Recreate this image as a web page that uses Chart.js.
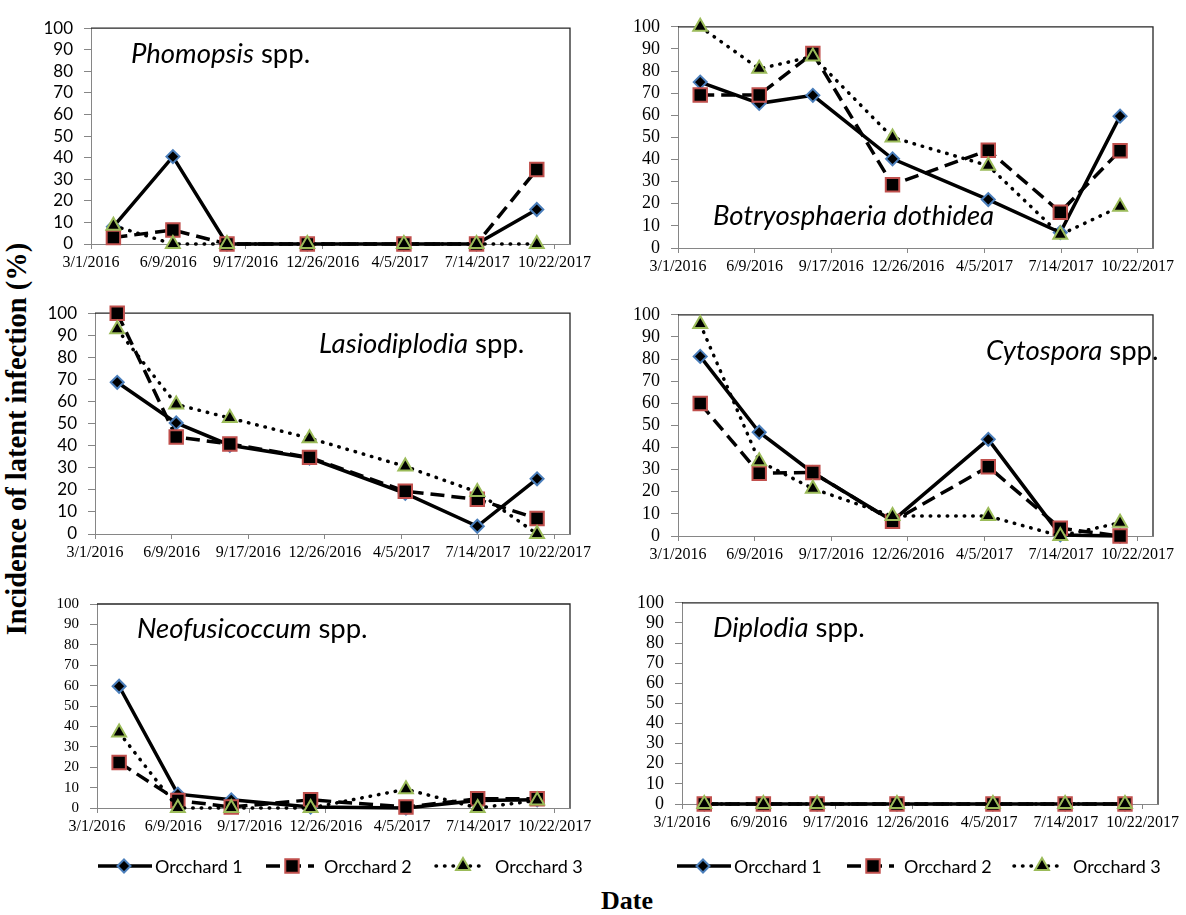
<!DOCTYPE html>
<html>
<head>
<meta charset="utf-8">
<script src="https://cdn.jsdelivr.net/npm/chart.js@4.4.1/dist/chart.umd.min.js"></script>
<style>
  body { margin: 0; background: #fff; }
  #page { position: relative; width: 1186px; height: 915px; overflow: hidden; background: #fff; }
  canvas { position: absolute; }
  #ytitle {
    position: absolute; left: 17px; top: 439px; white-space: nowrap; line-height: 1;
    font: bold 28.5px "Liberation Serif", "Times New Roman", serif;
    transform: translate(-50%, -50%) rotate(-90deg);
  }
  #xtitle {
    position: absolute; left: 627px; top: 886px; line-height: 1; white-space: nowrap;
    font: bold 26px "Liberation Serif", "Times New Roman", serif;
    transform: translateX(-50%);
  }
</style>
</head>
<body>
<div id="page">
  <div id="ytitle">Incidence of latent infection (%)</div>
  <div id="xtitle">Date</div>
</div>
<script>
const sampleDates = ["2016-03-30", "2016-06-15", "2016-08-24", "2016-12-06", "2017-04-10", "2017-07-13", "2017-09-29"];
const tickLabels = ["3/1/2016", "6/9/2016", "9/17/2016", "12/26/2016", "4/5/2017", "7/14/2017", "10/22/2017"];
const seriesNames = ["Orcchard 1", "Orcchard 2", "Orcchard 3"];

const phomopsis1 = [8, 40.5, 0, 0, 0, 0, 16];
const phomopsis2 = [3, 6.5, 0, 0, 0, 0, 34.5];
const phomopsis3 = [8.5, 0, 0, 0, 0, 0, 0];

const botryo1 = [75, 65.4, 69, 40.3, 21.9, 7, 59.6];
const botryo2 = [69.2, 69.2, 88, 28.6, 44.2, 16.2, 44];
const botryo3 = [100, 81, 86.6, 50, 37.2, 6, 18.7];

const lasio1 = [68.7, 50.3, 40.2, 34.4, 18.4, 3.5, 25];
const lasio2 = [100, 43.9, 40.8, 34.7, 19.4, 15.7, 7];
const lasio3 = [92.7, 58.7, 52.5, 43.4, 30.6, 19, 0];

const cyto1 = [81.2, 46.9, 28.6, 6.9, 43.7, 0.5, 0];
const cyto2 = [59.9, 28.4, 28.7, 6.6, 31.3, 3.5, 0];
const cyto3 = [95.8, 33.8, 21.4, 9, 9, 0, 6];

const neo1 = [59.7, 6.8, 4, 0.5, 0, 3.7, 4];
const neo2 = [22.3, 3.7, 0.5, 4, 0.5, 4.5, 4.5];
const neo3 = [37, 0, 0, 0, 9.2, 0, 3.7];

const diplo1 = [0, 0, 0, 0, 0, 0, 0];
const diplo2 = [0, 0, 0, 0, 0, 0, 0];
const diplo3 = [0, 0, 0, 0, 0, 0, 0];

const startDay = Date.UTC(2016, 2, 1);
const dayOf = (s) => {
  const [y, m, d] = s.split("-").map(Number);
  return (Date.UTC(y, m - 1, d) - startDay) / 86400000;
};

const SANS = "Lato, 'Noto Sans', sans-serif";
const SERIF = "'Liberation Serif', 'Times New Roman', serif";

const seriesStyle = [
  { dash: [], cap: "butt", pointStyle: "rectRot", radius: 6.5, border: "#4a7ebb" },
  { dash: [14, 7], cap: "butt", pointStyle: "rect", radius: 9.5, border: "#c0504d" },
  { dash: [0.5, 8], cap: "round", pointStyle: "triangle", radius: 8, border: "#9bbb59" },
];

const panels = [
  { italic: "Phomopsis", rest: " spp.", series: [phomopsis1, phomopsis2, phomopsis3],
    rect: { l: 91, t: 21, r: 570, b: 244 }, yFont: { family: SANS, size: 17 }, title: { x: 131, y: 63 } },
  { italic: "Botryosphaeria dothidea", rest: "", series: [botryo1, botryo2, botryo3],
    rect: { l: 678, t: 19, r: 1153, b: 248 }, yFont: { family: SERIF, size: 18 }, title: { x: 713, y: 225 } },
  { italic: "Lasiodiplodia", rest: " spp.", series: [lasio1, lasio2, lasio3],
    rect: { l: 95, t: 306, r: 570, b: 534 }, yFont: { family: SANS, size: 17 }, title: { x: 319, y: 353 } },
  { italic: "Cytospora", rest: " spp.", series: [cyto1, cyto2, cyto3],
    rect: { l: 678, t: 307, r: 1153, b: 536 }, yFont: { family: SERIF, size: 18 }, title: { x: 986, y: 360 } },
  { italic: "Neofusicoccum", rest: " spp.", series: [neo1, neo2, neo3],
    rect: { l: 97, t: 598, r: 570, b: 808 }, yFont: { family: SERIF, size: 15 }, title: { x: 137, y: 638 },
    legend: { y: 866, items: [[98, 152, 124, 155], [266, 314, 292, 324], [436, 485, 463, 495]] } },
  { italic: "Diplodia", rest: " spp.", series: [diplo1, diplo2, diplo3],
    rect: { l: 682, t: 595, r: 1158, b: 804 }, yFont: { family: SERIF, size: 18 }, title: { x: 713, y: 637 },
    legend: { y: 866, items: [[677, 731, 703, 734], [847, 894, 873, 904], [1014, 1065, 1042, 1073]] } },
];

const AXIS_W = 70, AXIS_H = 40, PAD_T = 14, PAD_R = 45, LEGEND_H = 60;
const TITLE_SIZE = 27.5;

function drawMarker(ctx, style, x, y) {
  const r = style.radius;
  ctx.save();
  ctx.setLineDash([]);
  ctx.fillStyle = "#000";
  ctx.strokeStyle = style.border;
  ctx.lineWidth = 2;
  ctx.beginPath();
  if (style.pointStyle === "rectRot") {
    ctx.moveTo(x, y - r); ctx.lineTo(x + r, y); ctx.lineTo(x, y + r); ctx.lineTo(x - r, y);
  } else if (style.pointStyle === "rect") {
    const s = r * Math.SQRT1_2;
    ctx.rect(x - s, y - s, 2 * s, 2 * s);
  } else {
    ctx.moveTo(x, y - r);
    ctx.lineTo(x + r * 0.866, y + r * 0.5);
    ctx.lineTo(x - r * 0.866, y + r * 0.5);
  }
  ctx.closePath();
  ctx.fill();
  ctx.stroke();
  ctx.restore();
}

const panelPlugin = {
  id: "panelDecor",
  beforeDatasetsDraw(chart, args, opts) {
    const { ctx, chartArea: a } = chart;
    ctx.save();
    // top and right edges of the plot box
    ctx.strokeStyle = "#262626";
    ctx.lineWidth = 1.3;
    ctx.beginPath();
    ctx.moveTo(a.left, a.top);
    ctx.lineTo(a.right, a.top);
    ctx.lineTo(a.right, a.bottom);
    ctx.stroke();
    // panel title
    ctx.fillStyle = "#000";
    ctx.textBaseline = "alphabetic";
    ctx.textAlign = "left";
    ctx.font = "italic " + TITLE_SIZE + "px " + SANS;
    const tx = opts.title.x - opts.offX, ty = opts.title.y - opts.offY;
    ctx.fillText(opts.italic, tx, ty);
    const w = ctx.measureText(opts.italic).width;
    ctx.font = TITLE_SIZE + "px " + SANS;
    ctx.fillText(opts.rest, tx + w, ty);
    ctx.restore();
  },
  afterDraw(chart, args, opts) {
    if (!opts.legend) return;
    const { ctx } = chart;
    const y = opts.legend.y - opts.offY;
    opts.legend.items.forEach((it, i) => {
      const st = seriesStyle[i];
      const [x1, x2, mx, tx] = it.map((v) => v - opts.offX);
      ctx.save();
      ctx.strokeStyle = "#000";
      ctx.lineWidth = 3.5;
      ctx.lineCap = st.cap;
      ctx.setLineDash(st.dash);
      ctx.beginPath();
      ctx.moveTo(x1, y);
      ctx.lineTo(x2, y);
      ctx.stroke();
      ctx.restore();
      drawMarker(ctx, st, mx, y);
      ctx.save();
      ctx.fillStyle = "#000";
      ctx.font = "18px " + SANS;
      ctx.textBaseline = "middle";
      ctx.fillText(seriesNames[i], tx, y + 1);
      ctx.restore();
    });
  },
};

const page = document.getElementById("page");
const xs = sampleDates.map(dayOf);

panels.forEach((p) => {
  const r = p.rect;
  const extra = p.legend ? LEGEND_H : 0;
  const canvas = document.createElement("canvas");
  const offX = r.l - AXIS_W, offY = r.t - PAD_T;
  canvas.width = r.r - r.l + AXIS_W + PAD_R;
  canvas.height = r.b - r.t + PAD_T + AXIS_H + extra;
  canvas.style.left = offX + "px";
  canvas.style.top = offY + "px";
  page.appendChild(canvas);

  const datasets = p.series.map((vals, i) => {
    const st = seriesStyle[i];
    return {
      label: seriesNames[i],
      data: xs.map((x, k) => ({ x, y: vals[k] })),
      borderColor: "#000",
      borderWidth: 3.5,
      borderDash: st.dash,
      borderCapStyle: st.cap,
      pointStyle: st.pointStyle,
      pointRadius: st.radius,
      pointBackgroundColor: "#000",
      pointBorderColor: st.border,
      pointBorderWidth: 2,
      tension: 0,
      clip: false,
      order: 3 - i,
    };
  });

  new Chart(canvas, {
    type: "line",
    data: { datasets },
    plugins: [panelPlugin],
    options: {
      responsive: false,
      animation: false,
      events: [],
      layout: { padding: { left: 0, top: PAD_T, right: PAD_R, bottom: extra } },
      plugins: {
        legend: { display: false },
        tooltip: { enabled: false },
        panelDecor: { italic: p.italic, rest: p.rest, title: p.title, legend: p.legend, offX, offY },
      },
      scales: {
        x: {
          type: "linear",
          min: 0,
          max: 620,
          afterBuildTicks: (s) => {
            s.ticks = tickLabels.map((_, i) => ({ value: i * 100 }));
          },
          afterFit: (s) => { s.height = AXIS_H; },
          ticks: {
            autoSkip: false,
            maxRotation: 0,
            padding: 4,
            color: "#000",
            font: { family: SERIF, size: 16 },
            callback: (v) => tickLabels[Math.round(v / 100)],
          },
          grid: { drawOnChartArea: false, drawTicks: true, tickLength: 5, color: "#868686" },
          border: { color: "#868686", width: 1 },
        },
        y: {
          min: 0,
          max: 100,
          afterFit: (s) => { s.width = AXIS_W; },
          ticks: { stepSize: 10, autoSkip: false, padding: 11, color: "#000", font: p.yFont },
          grid: { drawOnChartArea: false, drawTicks: true, tickLength: 7, color: "#868686" },
          border: { color: "#868686", width: 1 },
        },
      },
    },
  });
});
</script>
</body>
</html>
